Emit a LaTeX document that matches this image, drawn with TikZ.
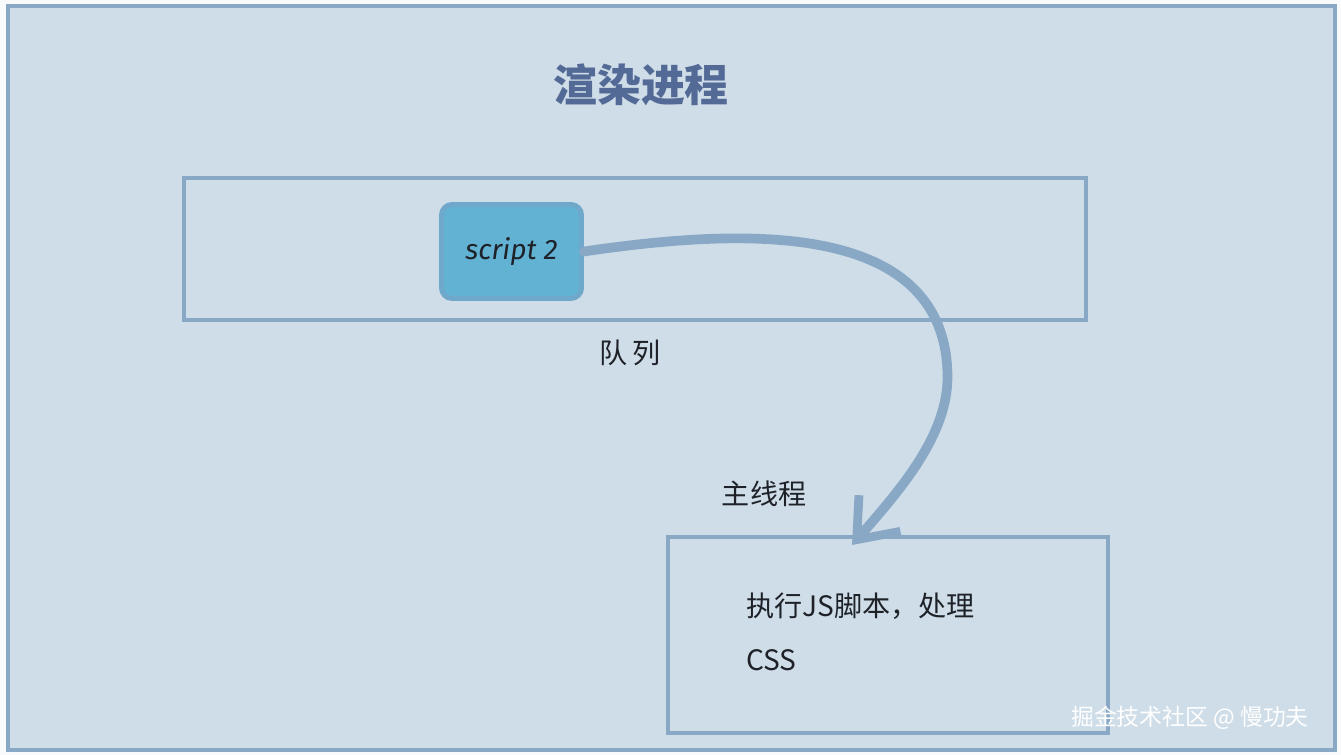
\documentclass[tikz,border=0pt]{standalone}
\usepackage{fontspec}
\usepackage{tikz}
\usetikzlibrary{arrows.meta, positioning}
\setmainfont{Fira Sans}
\newfontfamily\cjk{Noto Sans CJK SC}
\definecolor{paper}{RGB}{207,221,232}
\definecolor{edge}{RGB}{137,168,198}
\definecolor{ink}{RGB}{30,34,40}
\definecolor{heading}{RGB}{84,106,150}
\definecolor{chip}{RGB}{98,178,212}
\definecolor{chipedge}{RGB}{112,168,204}

\begin{document}
\begin{tikzpicture}[
    panel/.style={rectangle, draw=edge, line width=2.2pt, inner sep=0pt},
    chipbox/.style={rectangle, rounded corners=6pt, draw=chipedge, fill=chip,
                    line width=2.8pt, minimum width=2.8cm, minimum height=1.88cm,
                    font=\fontsize{16}{18}\selectfont\itshape, text=ink},
    tag/.style={font=\cjk\fontsize{16}{18}\selectfont, text=ink},
    flow/.style={draw=edge, line width=5.5pt, line cap=round,
                 -{Straight Barb[length=7mm, width=11mm, line width=5pt]}}
]
\fill[white!85!paper] (0,0) rectangle (26.82,15.1);
\useasboundingbox (0,0) rectangle (26.82,15.1);
\node[panel, fill=paper, minimum width=26.54cm, minimum height=14.88cm] (frame) at (13.43,7.54) {};
\node[font=\cjk\bfseries\fontsize{25}{28}\selectfont, text=heading] (title) at (12.82,13.4) {渲染进程};

% queue with the waiting script
\node[panel, minimum width=18.04cm, minimum height=2.84cm] (queue) at (12.7,10.12) {};
\node[chipbox] (job) at (10.23,10.07) {script 2};
\node[tag] (qlabel) at (12.6,8.04) {队\hspace{3pt}列};

% main thread
\node[panel, minimum width=8.8cm, minimum height=3.92cm] (main) at (17.76,2.4) {};
\node[tag, above=0.45cm of main.north west, xshift=1.96cm] (mlabel) {主线程};
\node[tag, anchor=west] (work1) at (14.8,2.98) {执行JS脚本，处理};
\node[tag, anchor=west] (work2) at (14.8,1.9) {CSS};

\coordinate (bend) at (18.95,7.6);
\coordinate (tip) at (17.04,4.2);
\draw[flow] (job.east) .. controls (14.6,10.5) and (18.9,10.8) .. (bend)
    .. controls (18.97,6.4) and (18.0,5.3) .. (tip);

\node[font=\cjk\fontsize{13}{15}\selectfont, text=white] (mark) at (23.8,0.74) {掘金技术社区 @ 慢功夫};
\end{tikzpicture}
\end{document}
